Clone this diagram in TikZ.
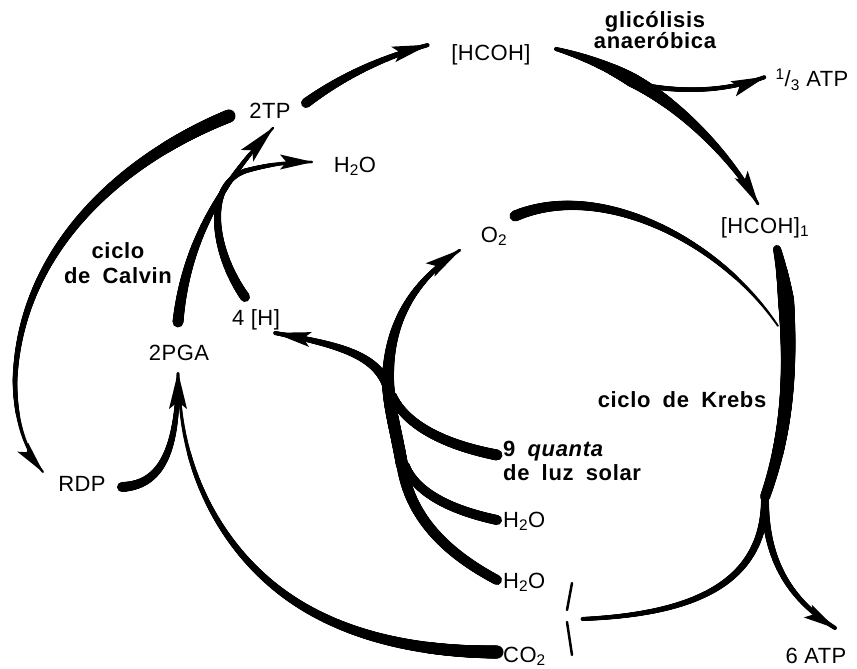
\documentclass[tikz,border=0pt]{standalone}
\usepackage{fontspec}
\setmainfont{Liberation Sans}
\newfontfamily\lfam{Liberation Sans}[LetterSpace=2]
\newfontfamily\bfam{Liberation Sans}[LetterSpace=3,WordSpace=1.8]
\usetikzlibrary{decorations.markings}
\newcommand\lblfont{\lfam\fontsize{22}{22}\selectfont}
\newcommand\blfont{\bfam\fontsize{22}{21}\selectfont\bfseries}
\tikzset{
 taper/.style 2 args={postaction={decorate,decoration={markings,
   mark=between positions 0 and 1 step 0.6pt with {%
     \pgfmathsetmacro\tpr{#1+(#2-#1)*\pgfkeysvalueof{/pgf/decoration/mark info/distance from start}/\pgfdecoratedpathlength}%
     \pgfpathcircle{\pgfpointorigin}{\tpr pt}\pgfusepath{fill}}}}},
 tipend/.style 2 args={postaction={decorate,decoration={markings,
   mark=at position 1 with {\fill (1pt,0pt) -- (-#1pt,#2pt) -- (-0.8*#1pt,0pt) -- (-#1pt,-#2pt) -- cycle;}}}},
 lbl/.style={font=\lblfont, inner sep=0pt},
 blbl/.style={font=\blfont, inner sep=0pt},
 breakmark/.style={line width=2.5pt, line cap=round},
}
\begin{document}
\begin{tikzpicture}[x=1pt,y=-1pt]
\useasboundingbox (0,0) rectangle (857,669);
\fill[white] (0,0) rectangle (857,669);

% labels
\node[lbl,anchor=base] (hcoh) at (491,60) {[HCOH]};
\node[lbl,anchor=base] (tp) at (270,118) {2TP};
\node[lbl,anchor=base] (h2oA) at (355,172) {H\textsubscript{2}O};
\node[lbl,anchor=base] (o2) at (494,242) {O\textsubscript{2}};
\node[lbl,anchor=base] (hcoh1) at (765,233) {[HCOH]\textsubscript{1}};
\node[lbl,anchor=base] (atp13) at (812,87) {\textsuperscript{1}/\textsubscript{3} ATP};
\node[blbl,anchor=base,align=center] (glic) at (655,49) {glicólisis\\anaeróbica};
\node[blbl,anchor=base,align=center] (calvin) at (118,283) {ciclo\\[4pt]de Calvin};
\node[lbl,anchor=base] (h4) at (256,325) {4 [H]};
\node[lbl,anchor=base] (pga) at (179,360) {2PGA};
\node[lbl,anchor=base] (rdp) at (82,491) {RDP};
\node[blbl,anchor=base] (krebs) at (682,407) {ciclo de Krebs};
\node[blbl,anchor=base west,align=left] (quanta) at (503,480) {9 \textit{quanta}\\[3pt]de luz solar};
\node[lbl,anchor=base west] (h2oB) at (503,527) {H\textsubscript{2}O};
\node[lbl,anchor=base west] (h2oC) at (503,588) {H\textsubscript{2}O};
\node[lbl,anchor=base west] (co2) at (503,662) {CO\textsubscript{2}};
\node[lbl,anchor=base] (atp6) at (816,663) {6 ATP};

% connector end points
\coordinate (tpOut) at (229,116);
\coordinate (rdpIn) at (43,472);
\coordinate (rdpOut) at (122,487);
\coordinate (co2Out) at (497,652);
\coordinate (co2Mid) at (280.25,591);
\coordinate (pgaMerge) at (180,400);
\coordinate (pgaIn) at (178,373);
\coordinate (pgaOut) at (178,322);
\coordinate (tpIn) at (273,128);
\coordinate (hOut) at (245,297);
\coordinate (h2oAIn) at (312,162);
\coordinate (tpOut2) at (306,103);
\coordinate (hcohIn) at (428,45);
\coordinate (hcohOut) at (556,49);
\coordinate (glyMid) at (632,80);
\coordinate (hcohIIn) at (758,204);
\coordinate (atpBr) at (648,86);
\coordinate (atp13In) at (765,77);
\coordinate (hcohIOut) at (777,249);
\coordinate (krA) at (786,300);
\coordinate (krSplit) at (765,497);
\coordinate (atp6In) at (835,628);
\coordinate (krCO2) at (582,619);
\coordinate (o2Out) at (515,216);
\coordinate (krO2) at (778,326);
\coordinate (quantaOut) at (497,455);
\coordinate (h2oBOut) at (497,520);
\coordinate (h2oCOut) at (497,580);
\coordinate (stemB) at (402,465);
\coordinate (junc) at (388,378);
\coordinate (o2In) at (460,250);
\coordinate (hIn) at (275,333);

% Calvin cycle
\path[taper={6.5}{1.2},tipend={32}{7}] (tpOut) .. controls (120,160) and (20,250) .. (15,380) .. controls (15,420) and (25,450) .. (rdpIn);
\path[taper={5}{1.5},tipend={36}{9}] (rdpOut) .. controls (162,485) and (178,450) .. (pgaIn);
\path[taper={6.5}{3.8}] (co2Out) .. controls (413.5,652) and (337.25,634.5) .. (co2Mid);
\path[taper={3.8}{1.4}] (co2Mid) .. controls (223.25,547.5) and (185.5,478) .. (pgaMerge);
\path[taper={5.5}{1.3},tipend={38}{8.5}] (pgaOut) .. controls (185,250) and (215,190) .. (tpIn);
\path[taper={5}{1.3},tipend={32}{7.5}] (hOut) .. controls (212,250) and (205,185) .. (245,171) .. controls (270,164) and (290,162) .. (h2oAIn);
\path[taper={5}{2},tipend={36}{8}] (tpOut2) .. controls (340,78) and (380,58) .. (hcohIn);

% glycolysis
\path[taper={2}{7}] (hcohOut) .. controls (575,54) and (605,64) .. (glyMid);
\path[taper={7}{1.5},tipend={34}{7.5}] (glyMid) .. controls (680,105) and (730,155) .. (hcohIIn);
\path[taper={2.5}{2},tipend={34}{8}] (atpBr) .. controls (690,93) and (730,90) .. (atp13In);

% Krebs cycle
\path[taper={4}{8}] (hcohIOut) .. controls (781,265) and (784,283) .. (krA);
\path[taper={8}{5}] (krA) .. controls (792,380) and (785,440) .. (krSplit);
\path[taper={4}{2},tipend={32}{7.5}] (krSplit) .. controls (765,560) and (790,600) .. (atp6In);
\path[taper={4}{2},tipend={36}{7.5}] (krSplit) .. controls (765,580) and (700,614) .. (krCO2);
\path[taper={5.5}{1}] (o2Out) .. controls (600,180) and (720,240) .. (krO2);

% light reactions
\path[taper={5.5}{4.5}] (quantaOut) .. controls (445,445) and (405,425) .. (392,395);
\path[taper={5}{4.5}] (h2oBOut) .. controls (450,510) and (415,492) .. (405,465);
\path[taper={5}{5.5}] (h2oCOut) .. controls (450,555) and (410,520) .. (stemB);
\path[taper={6}{6}] (stemB) .. controls (396,430) and (388,405) .. (junc);
\path[taper={6}{1.5},tipend={36}{8}] (junc) .. controls (389,320) and (415,280) .. (o2In);
\path[taper={5}{2},tipend={36}{7.5}] (387,385) .. controls (375,355) and (340,345) .. (hIn);

% break marks
\draw[breakmark] (572,583) -- (567,610);
\draw[breakmark] (567,622) -- (572,655);
\end{tikzpicture}
\end{document}
